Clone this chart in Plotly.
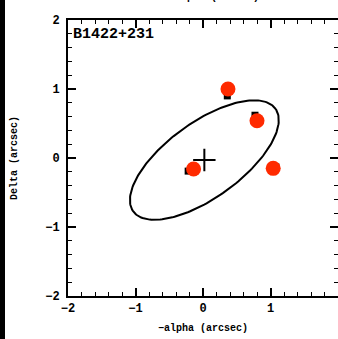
import numpy as np
import plotly.graph_objects as go

# observed image positions (red circles)
obs_dalpha = [0.37, 0.80, -0.14, 1.04]
obs_delta = [1.00, 0.54, -0.16, -0.15]
# model image positions (black squares)
mod_dalpha = [0.36, 0.77, -0.22, 1.08]
mod_delta = [0.90, 0.62, -0.19, -0.13]
# lens centre
lens_dalpha = [0.02]
lens_delta = [-0.03]
# ellipse parameters (centre x, centre y, semi-major, semi-minor, angle deg)
ell_cx, ell_cy, ell_a, ell_b, ell_theta = 0.02, -0.03, 1.29, 0.55, 35.0

label = "B1422+231"
xtick_vals = [-2, -1, 0, 1, 2]
ytick_vals = [-2, -1, 0, 1, 2]

t = np.linspace(0, 2 * np.pi, 200)
th = np.deg2rad(ell_theta)
ex = ell_cx + ell_a * np.cos(t) * np.cos(th) - ell_b * np.sin(t) * np.sin(th)
ey = ell_cy + ell_a * np.cos(t) * np.sin(th) + ell_b * np.sin(t) * np.cos(th)

fig = go.Figure()
fig.add_trace(go.Scatter(x=ex, y=ey, mode="lines",
                         line=dict(color="black", width=2), hoverinfo="skip"))
fig.add_trace(go.Scatter(x=mod_dalpha, y=mod_delta, mode="markers",
                         marker=dict(symbol="square", size=7, color="black")))
fig.add_trace(go.Scatter(x=obs_dalpha, y=obs_delta, mode="markers",
                         marker=dict(symbol="circle", size=15, color="#ff2a00")))
fig.add_trace(go.Scatter(x=lens_dalpha, y=lens_delta, mode="markers",
                         marker=dict(symbol="cross-thin", size=16,
                                     line=dict(color="black", width=2))))

axis_common = dict(
    showgrid=False, zeroline=False, showline=True, linecolor="black", linewidth=2,
    mirror="allticks", ticks="inside", ticklen=8, tickwidth=1.5, tickcolor="black",
    minor=dict(ticks="inside", ticklen=4, tickwidth=1, tickcolor="black", dtick=0.2),
    tickfont=dict(family="Liberation Mono", size=12, color="black", weight="bold"),
    automargin=False,
)
title_font = dict(family="Liberation Mono", size=10, color="black", weight="bold")
fig.update_layout(
    width=338, height=339,
    margin=dict(l=68, r=0, t=20, b=43, autoexpand=False),
    paper_bgcolor="rgba(0,0,0,0)", plot_bgcolor="white",
    showlegend=False,
    xaxis=dict(range=[-2, 2], tickvals=xtick_vals,
               title=dict(text="\u2212alpha (arcsec)", standoff=9, font=title_font),
               **axis_common),
    yaxis=dict(range=[-2, 2], tickvals=ytick_vals, ticklabelstandoff=4,
               title=dict(text="Delta (arcsec)", standoff=26, font=title_font),
               **axis_common),
    annotations=[
        dict(text=label, xref="paper", yref="paper", x=0.01, y=0.985,
             xanchor="left", yanchor="top", showarrow=False,
             font=dict(family="Liberation Mono", size=15, color="black", weight="bold")),
        dict(text="\u2212alpha (arcsec)", xref="paper", yref="paper", x=0.54, y=1.0,
             yshift=15, xanchor="center", yanchor="bottom", showarrow=False,
             font=title_font),
    ],
)

bg = "'linear-gradient(to right, black 0px, black 5px, white 5px)'"
fig.write_html(
    "out.html", config={"displayModeBar": False},
    post_script=("document.body.style.margin='0';"
                 "document.body.style.overflow='hidden';"
                 "document.documentElement.style.height='100%';"
                 "document.body.style.minHeight='100%';"
                 "document.documentElement.style.background=" + bg + ";"
                 "document.body.style.background=" + bg + ";"),
)
